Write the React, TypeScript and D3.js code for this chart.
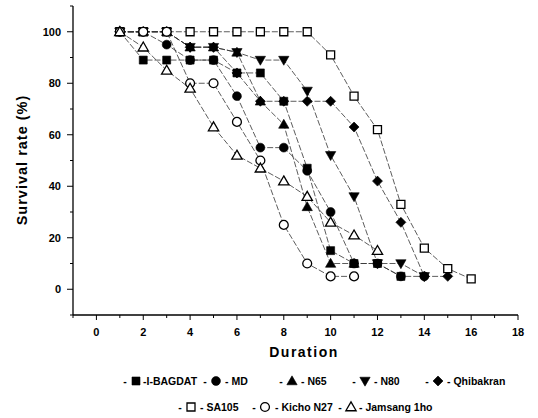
import React from "react";
import * as d3 from "d3";

const durations = [1, 2, 3, 4, 5, 6, 7, 8, 9, 10, 11, 12, 13, 14, 15, 16];
const seriesNames = ["I-BAGDAT", "MD", "N65", "N80", "Qhibakran", "SA105", "Kicho N27", "Jamsang 1ho"];
const iBagdat = [100, 89, 89, 89, 89, 84, 84, 73, 47, 15, 10, 10, 5];
const md = [100, 100, 95, 89, 89, 75, 55, 55, 46, 30, 10, 10, 5, 5];
const n65 = [100, 100, 100, 94, 94, 92, 73, 64, 32, 10, 10];
const n80 = [100, 100, 100, 94, 94, 92, 89, 89, 77, 52, 36, 10, 10, 5];
const qhibakran = [100, 100, 100, 94, 94, 84, 73, 73, 73, 73, 63, 42, 26, 5, 5];
const sa105 = [100, 100, 100, 100, 100, 100, 100, 100, 100, 91, 75, 62, 33, 16, 8, 4];
const kicho = [100, 100, 100, 80, 80, 65, 50, 25, 10, 5, 5];
const jamsang = [100, 94, 85, 78, 63, 52, 47, 42, 36, 26, 21, 15];
const xTicks = [0, 2, 4, 6, 8, 10, 12, 14, 16, 18];
const yTicks = [0, 20, 40, 60, 80, 100];

const seriesValues = [iBagdat, md, n65, n80, qhibakran, sa105, kicho, jamsang];
const markerKinds = ["square", "circle", "triUp", "triDown", "diamond", "square", "circle", "triUp"];
const markerFilled = [true, true, true, true, true, false, false, false];

const W = 538;
const H = 418;
const FONT = "'Liberation Sans', Arial, sans-serif";

function markerPath(kind: string) {
  if (kind === "square") return d3.symbol(d3.symbolSquare, 64)()!;
  if (kind === "circle") return d3.symbol(d3.symbolCircle, 62)()!;
  if (kind === "diamond") return d3.symbol(d3.symbolSquare, 50)()!;
  return d3.symbol(d3.symbolTriangle, 46)()!;
}
function markerRot(kind: string) {
  if (kind === "triDown") return 180;
  if (kind === "diamond") return 45;
  return 0;
}

function Marker({ kind, filled, x, y }: { kind: string; filled: boolean; x: number; y: number }) {
  const dy = kind === "triUp" ? 0.8 : kind === "triDown" ? -0.8 : 0;
  return (
    <path
      d={markerPath(kind)}
      transform={`translate(${x},${y + dy}) rotate(${markerRot(kind)})`}
      fill={filled ? "#000" : "#fff"}
      stroke="#000"
      strokeWidth={filled ? 0.6 : 1.3}
    />
  );
}

// legend layout
const legendRows = [
  { y: 381, items: [0, 1, 2, 3, 4], markerX: [136, 216, 292, 365, 438], labelX: [143, 225, 301, 374, 447] },
  { y: 407, items: [5, 6, 7], markerX: [191, 265, 351], labelX: [200, 275, 359] },
];
const legendLabels = ["-I-BAGDAT", "- MD", "- N65", "- N80", "- Qhibakran", "- SA105", "- Kicho N27", "- Jamsang 1ho"];

export default function App() {
  const x = d3.scaleLinear().domain([-1, 18]).range([73, 518]);
  const y = d3.scaleLinear().domain([-10, 110]).range([315, 6]);
  const line = d3
    .line<number>()
    .x((_, i) => x(durations[i]))
    .y((v) => y(v));

  const xMinor = d3.range(-1, 18, 2);
  const yMinor = d3.range(-10, 111, 20);

  return (
    <svg width={W} height={H} style={{ position: "absolute", left: 0, top: 0, background: "#fff" }} fontFamily={FONT}>
      <rect width={W} height={H} fill="#fff" />
      {/* axes */}
      <line x1={x(-1)} x2={x(-1)} y1={y(110)} y2={y(-10)} stroke="#000" strokeWidth={1.3} />
      <line x1={x(-1)} x2={x(18)} y1={y(-10)} y2={y(-10)} stroke="#000" strokeWidth={1.3} />
      {yTicks.map((t) => (
        <g key={"yt" + t}>
          <line x1={x(-1) - 6} x2={x(-1)} y1={y(t)} y2={y(t)} stroke="#000" strokeWidth={1} />
          <text x={x(-1) - 12} y={y(t) + 4} fontSize={11} fontWeight="bold" textAnchor="end">
            {t}
          </text>
        </g>
      ))}
      {yMinor.map((t) => (
        <line key={"ym" + t} x1={x(-1) - 3} x2={x(-1)} y1={y(t)} y2={y(t)} stroke="#000" strokeWidth={1} />
      ))}
      {xTicks.map((t) => (
        <g key={"xt" + t}>
          <line x1={x(t)} x2={x(t)} y1={y(-10)} y2={y(-10) + 5} stroke="#000" strokeWidth={1} />
          <text x={x(t)} y={y(-10) + 21} fontSize={11} fontWeight="bold" textAnchor="middle">
            {t}
          </text>
        </g>
      ))}
      {xMinor.map((t) => (
        <line key={"xm" + t} x1={x(t)} x2={x(t)} y1={y(-10)} y2={y(-10) + 3} stroke="#000" strokeWidth={1} />
      ))}
      <text x={304} y={357} fontSize={14} fontWeight="bold" textAnchor="middle" letterSpacing={1.5}>
        Duration
      </text>
      <text
        transform="translate(27,160) rotate(-90)"
        fontSize={14.5}
        fontWeight="bold"
        textAnchor="middle"
        letterSpacing={1}
      >
        Survival rate (%)
      </text>

      {/* lines */}
      {seriesValues.map((vals, si) => (
        <path key={"l" + si} d={line(vals)!} fill="none" stroke="#333" strokeWidth={0.8} strokeDasharray="6,2" />
      ))}
      {/* markers */}
      {seriesValues.map((vals, si) =>
        vals.map((v, i) => (
          <Marker key={`m${si}-${i}`} kind={markerKinds[si]} filled={markerFilled[si]} x={x(durations[i])} y={y(v)} />
        ))
      )}

      {/* legend */}
      {legendRows.map((row, ri) => (
        <g key={"lr" + ri}>
          {row.items.map((si, k) => (
            <g key={"li" + si}>
              <text x={row.markerX[k] - 11} y={row.y + 4} fontSize={10.5} fontWeight="bold" textAnchor="middle">
                -
              </text>
              <Marker kind={markerKinds[si]} filled={markerFilled[si]} x={row.markerX[k]} y={row.y} />
              <text x={row.labelX[k]} y={row.y + 4} fontSize={10.5} fontWeight="bold">
                {legendLabels[si]}
              </text>
            </g>
          ))}
        </g>
      ))}
    </svg>
  );
}
